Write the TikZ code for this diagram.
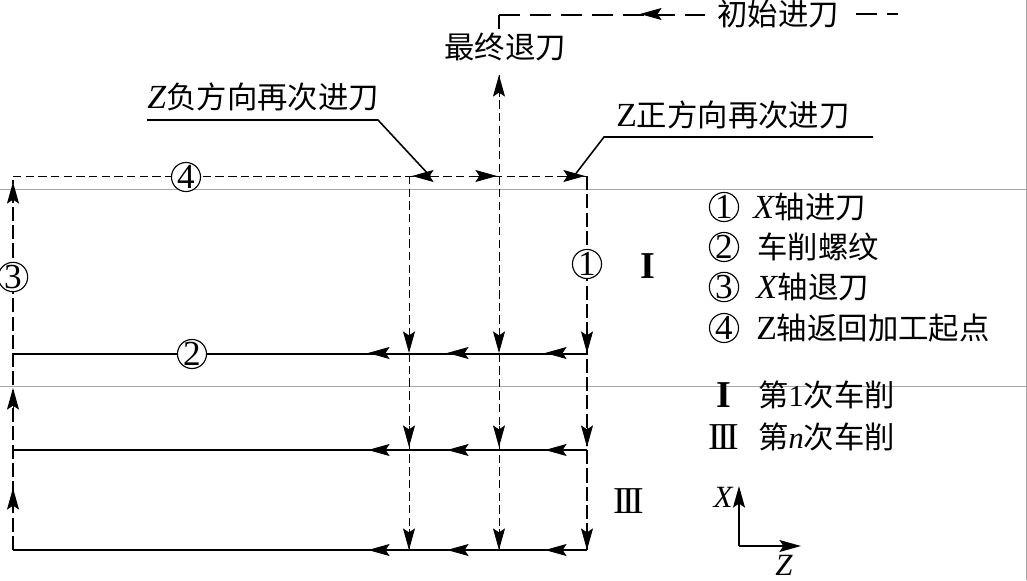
\documentclass[tikz,border=0pt]{standalone}
\usepackage{fontspec}
\setmainfont{Liberation Serif}
\newfontfamily\cjk{Noto Sans CJK SC}
\usetikzlibrary{arrows.meta}
\tikzset{
    lab/.style={font=\fontsize{21.6}{22}\selectfont\cjk, inner sep=0pt},
    rom/.style={font=\fontsize{27}{27}\selectfont, inner sep=0pt},
    latin/.style={font=\fontsize{24}{24}\selectfont\itshape, inner sep=0pt},
    num/.style={draw, circle, fill=white, line width=0.8pt, minimum size=0.72cm, inner sep=0pt, font=\fontsize{25}{25}\selectfont},
    thinsolid/.style={line width=1.4pt},
    thindash/.style={line width=0.7pt, dash pattern=on 6pt off 3pt},
    thickdash/.style={line width=1.4pt, dash pattern=on 10pt off 3pt},
    longdash/.style={line width=0.9pt, dash pattern=on 15pt off 7pt},
    head/.style={-{Stealth[length=0.54cm, width=0.3cm, inset=0.1cm]}, line width=0.7pt}
}
\newcommand{\xz}{\textit{X}}
\begin{document}
\begin{tikzpicture}[x=0.025cm, y=-0.025cm]
    \useasboundingbox (0,0) rectangle (1027,580);
    % Lineas grises de fondo
    \draw[gray!70, line width=0.6pt] (0,189) -- (1027,189);
    \draw[gray!70, line width=0.6pt] (0,386) -- (1027,386);
    \draw[gray!70, line width=0.8pt] (1026.5,0) -- (1026.5,580);

    % Puntos de la trayectoria
    \coordinate (a0) at (13,176);
    \coordinate (a1) at (13,354);
    \coordinate (a2) at (13,450);
    \coordinate (a3) at (13,550);
    \coordinate (c0) at (587,176);
    \coordinate (c1) at (587,354);
    \coordinate (c2) at (587,450);
    \coordinate (c3) at (587,550);
    \coordinate (m0) at (409,176);
    \coordinate (m3) at (409,550);
    \coordinate (e0) at (499,75);
    \coordinate (e3) at (499,550);

    % Retorno y pasadas
    \draw[thindash] (a0) -- (c0);
    \draw[thinsolid] (a1) -- (c1);
    \draw[thinsolid] (a2) -- (c2);
    \draw[thinsolid] (a3) -- (c3);
    \draw[thickdash] (a3) -- (13,180);
    \draw[thickdash] (c0) -- (c3);
    \draw[thindash] (m0) -- (m3);
    \draw[thindash] (e0) -- (e3);

    % Circulos sobre las lineas
    \node[num] (n4) at (186,177) {4};
    \node[num] (n3) at (13,277) {3};
    \node[num] (n2) at (192,354) {2};
    \node[num] (n1) at (587,264) {1};

    % Puntas hacia abajo
    \foreach \x in {409,499,587} {
        \foreach \y in {353,447,550} {
            \draw[head] (\x,\y-21) -- (\x,\y);
        }
    }
    % Puntas hacia la izquierda
    \foreach \y in {353,450,550} {
        \foreach \x in {368,447,545} {
            \draw[head] (\x+22,\y) -- (\x,\y);
        }
    }
    % Puntas hacia arriba
    \foreach \y in {182,388,488} {
        \draw[head] (13,\y+21) -- (13,\y);
    }
    \draw[head] (499,97) -- (e0);
    % Puntas sobre el retorno
    \draw[head] (434,176) -- (412,176);
    \draw[head] (475,176) -- (497,176);
    \draw[head] (563,176) -- (585,176);

    % Entrada inicial
    \node[lab, anchor=west] (inicial) at (717,14) {初始进刀};
    \node[lab] (final) at (505,47) {最终退刀};
    \coordinate (esq) at (499,15);
    \coordinate (fin) at (898,14);
    \draw[longdash] (esq) -- (705,15);
    \draw[longdash] (esq) -- (499,29);
    \draw[longdash] (inicial.east) ++(17,0) -- (fin);
    \draw[head] (668,14) -- (640,14);

    % Rotulos con linea de referencia
    \node[anchor=west, inner sep=0pt] (zneg) at (147,97) {\fontsize{24}{24}\selectfont\textit{Z}\fontsize{21.6}{22}\selectfont\cjk 负方向再次进刀};
    \node[anchor=west, inner sep=0pt] (zpos) at (616,115) {\fontsize{24}{24}\selectfont Z\fontsize{21.6}{22}\selectfont\cjk 正方向再次进刀};
    \coordinate (l1) at (147,120);
    \coordinate (l2) at (378,120);
    \coordinate (l3) at (430,176);
    \coordinate (r1) at (873,137);
    \coordinate (r2) at (604,137);
    \coordinate (r3) at (574,176);
    \draw[line width=1.1pt] (l1) -- (l2) -- (l3);
    \draw[line width=1.1pt] (r1) -- (r2) -- (r3);

    % Numeros romanos
    \node[rom, font=\fontsize{27}{27}\selectfont\bfseries] (rI) at (648,266) {I};
    \node[rom] (rIII) at (629,501) {I\kern-2.5pt I\kern-2.5pt I};

    % Leyenda
    \node[num] (k1) at (724,207) {1};
    \node[num] (k2) at (724,247) {2};
    \node[num] (k3) at (724,287) {3};
    \node[num] (k4) at (724,328) {4};
    \node[anchor=west, inner sep=0pt] (t1) at (753,207) {\fontsize{24}{24}\selectfont\xz\fontsize{21.6}{22}\selectfont\cjk 轴进刀};
    \node[lab, anchor=west] (t2) at (757,247) {车削螺纹};
    \node[anchor=west, inner sep=0pt] (t3) at (756,287) {\fontsize{24}{24}\selectfont\xz\fontsize{21.6}{22}\selectfont\cjk 轴退刀};
    \node[anchor=west, inner sep=0pt] (t4) at (756,328) {\fontsize{24}{24}\selectfont Z\fontsize{21.6}{22}\selectfont\cjk 轴返回加工起点};
    \node[rom, font=\fontsize{27}{27}\selectfont\bfseries] (kI) at (724,395) {I};
    \node[rom] (kIII) at (724,437) {I\kern-2.5pt I\kern-2.5pt I};
    \node[anchor=west, inner sep=0pt] (t5) at (758,395) {\fontsize{21.6}{22}\selectfont\cjk 第{\fontfamily{\rmdefault}\selectfont 1}次车削};
    \node[anchor=west, inner sep=0pt] (t6) at (758,437) {\fontsize{21.6}{22}\selectfont\cjk 第{\fontfamily{\rmdefault}\selectfont\itshape n}次车削};

    % Ejes
    \coordinate (o) at (739,546);
    \coordinate (ox) at (739,486);
    \coordinate (oz) at (801,546);
    \draw[head, line width=1.1pt] (o) -- (ox);
    \draw[head, line width=1.1pt] (o) -- (oz);
    \node[latin, font=\fontsize{22}{22}\selectfont\itshape] (lx) at (723,497) {X};
    \node[latin, font=\fontsize{22}{22}\selectfont\itshape] (lz) at (784,565) {Z};
\end{tikzpicture}
\end{document}
